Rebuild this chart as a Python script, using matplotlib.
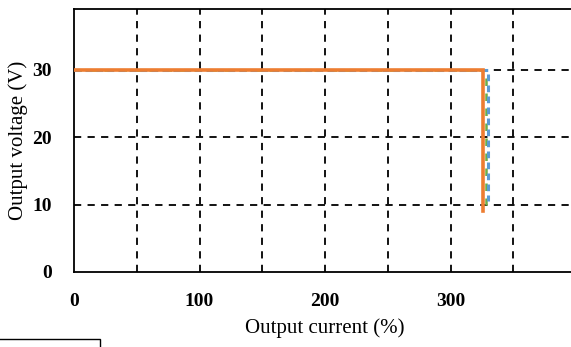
import matplotlib
matplotlib.use("Agg")
import matplotlib.pyplot as plt
from matplotlib.patches import Rectangle

# output current (%) vs output voltage (V)
orange_current = [0, 326, 326]
orange_voltage = [30, 30, 9]
green_current = [0, 328.5, 328.5]
green_voltage = [30, 30, 10]
blue_current = [0, 330, 330]
blue_voltage = [30, 30, 10.5]

x_ticks = [0, 100, 200, 300]
y_ticks = [0, 10, 20, 30]

plt.rcParams["font.family"] = ["Liberation Serif", "DejaVu Serif"]

fig = plt.figure(figsize=(5.71, 3.47), dpi=100)
ax = fig.add_axes([74 / 571, 75 / 347, 502 / 571, 263 / 347])

ax.plot(green_current, green_voltage, color="#70ad47", lw=1.8, ls=(0, (3, 3)), zorder=3)
ax.plot(blue_current, blue_voltage, color="#5b9bd5", lw=2.2, ls=(0, (2.2, 1.4)), zorder=4)
ax.plot(orange_current, orange_voltage, color="#ed7d31", lw=2.6, zorder=5,
        solid_joinstyle="miter")

ax.set_xlim(0, 400)
ax.set_ylim(0, 39)
ax.set_xticks(x_ticks)
ax.set_yticks(y_ticks)
for v in range(50, 400, 50):
    ax.axvline(v, color="black", lw=1.3, ls=(0, (4, 3.5)), zorder=1)
for v in [10, 20, 30]:
    ax.axhline(v, color="black", lw=1.3, ls=(0, (4, 3.5)), zorder=1)

ax.tick_params(axis="x", length=0, pad=15, labelsize=14)
ax.tick_params(axis="y", length=0, pad=16, labelsize=14)
for lab in ax.get_xticklabels() + ax.get_yticklabels():
    lab.set_fontweight("bold")
for s in ax.spines.values():
    s.set_linewidth(1.3)

ax.set_xlabel("Output current (%)", fontsize=15, labelpad=6)
ax.set_ylabel("Output voltage (V)", fontsize=15, labelpad=3)

# cropped legend frame at the bottom left
fig.patches.append(Rectangle((-0.1, -0.1), (100 + 57) / 571, 0.1 + 8 / 347,
                             transform=fig.transFigure, fill=False,
                             edgecolor="black", lw=1.0))

fig.savefig("out.png", dpi=100)
